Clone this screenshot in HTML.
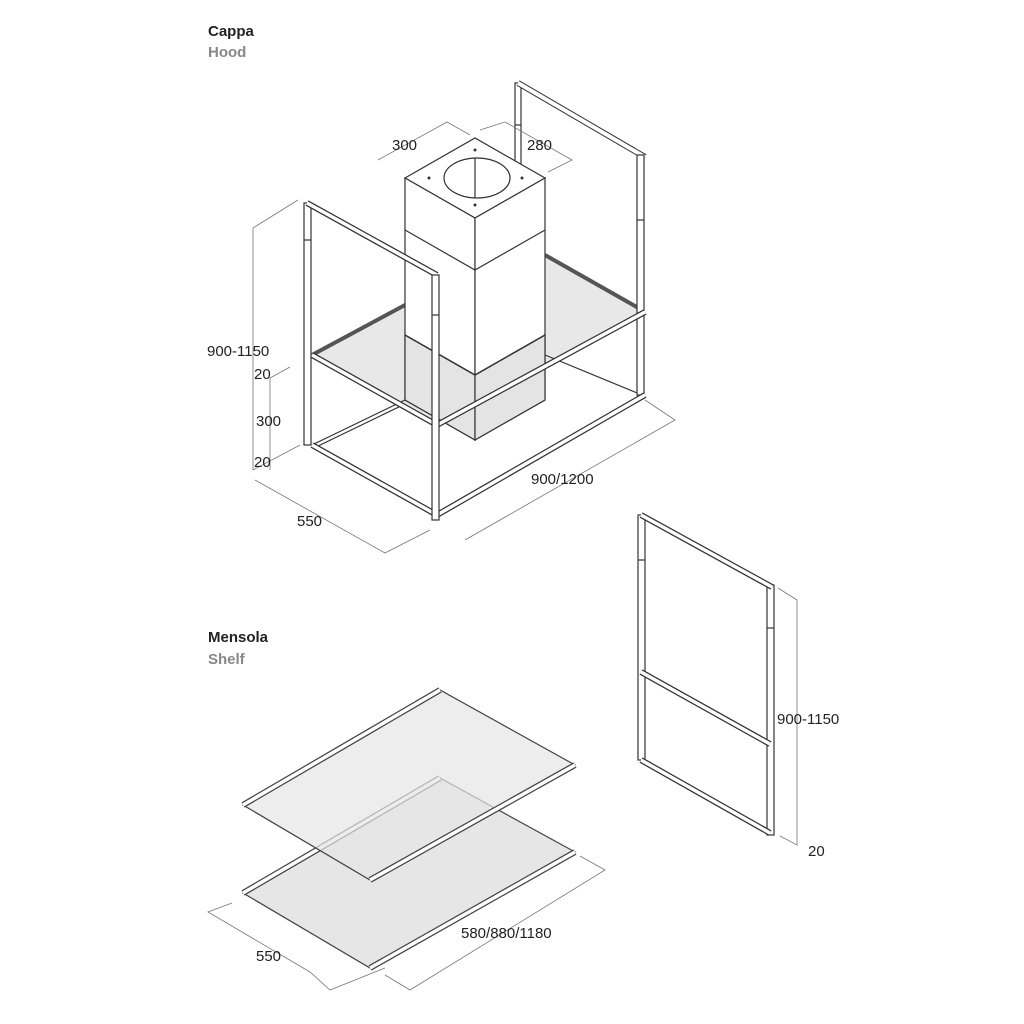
<!DOCTYPE html>
<html><head><meta charset="utf-8"><style>
html,body{margin:0;padding:0;background:#fff;}
svg{display:block;}
text{font-family:"Liberation Sans",Arial,sans-serif;}
</style></head><body>
<svg width="1024" height="1024" viewBox="0 0 1024 1024" xmlns="http://www.w3.org/2000/svg">
<rect width="1024" height="1024" fill="#fff"/>
<text x="208" y="36" font-size="15" font-weight="bold" fill="#222">Cappa</text>
<text x="208" y="57" font-size="15" font-weight="bold" fill="#888">Hood</text>
<text x="208" y="642" font-size="15" font-weight="bold" fill="#222">Mensola</text>
<text x="208" y="664" font-size="15" font-weight="bold" fill="#888">Shelf</text>

<!-- HOOD -->
<g stroke="#333" stroke-width="1.2" fill="none">
<polygon points="312,355 405,305 545,255 642,310 437,422" fill="#e8e8e8" stroke="none"/>
<line x1="312" y1="355" x2="405" y2="305" stroke-width="4" stroke="#555"/>
<line x1="545" y1="255" x2="642" y2="310" stroke-width="4" stroke="#555"/>
<line x1="312" y1="445" x2="405" y2="400"/>
<line x1="316" y1="447" x2="405" y2="404"/>
<line x1="545" y1="355" x2="642" y2="395"/>
<!-- back right frame (behind hood) -->
<rect x="515" y="83" width="6" height="175" fill="#fff"/>
<line x1="515" y1="125" x2="521" y2="125"/>
<line x1="518" y1="83" x2="645" y2="157" stroke-width="6"/>
<line x1="518" y1="83" x2="645" y2="157" stroke-width="4" stroke="#fff"/>
<rect x="637" y="155" width="7" height="240" fill="#fff"/>
<line x1="637" y1="220" x2="644" y2="220"/>
<!-- hood box -->
<polygon points="405,178 475,138 545,178 475,218" fill="#fff"/>
<polygon points="405,178 475,218 475,440 405,400" fill="#fff"/>
<polygon points="475,218 545,178 545,400 475,440" fill="#fff"/>
<polygon points="405,335 475,375 475,440 405,400" fill="#e4e4e4"/>
<polygon points="475,375 545,335 545,400 475,440" fill="#e4e4e4"/>
<polyline points="405,230 475,270 545,230"/>
<polyline points="405,335 475,375 545,335" stroke-width="1.5"/>
<ellipse cx="477" cy="178" rx="33" ry="20"/>
<line x1="475" y1="158" x2="475" y2="198"/>
<g fill="#333" stroke="none"><circle cx="475" cy="150" r="1.5"/><circle cx="429" cy="178" r="1.5"/><circle cx="522" cy="178" r="1.5"/><circle cx="475" cy="205" r="1.5"/></g>
<!-- front shelf rails -->
<line x1="312" y1="355" x2="437" y2="425" stroke-width="6"/>
<line x1="312" y1="355" x2="437" y2="425" stroke-width="3.5" stroke="#fff"/>
<line x1="437" y1="425" x2="645" y2="312" stroke-width="6"/>
<line x1="437" y1="425" x2="645" y2="312" stroke-width="3.5" stroke="#fff"/>
<line x1="312" y1="445" x2="437" y2="515" stroke-width="6"/>
<line x1="312" y1="445" x2="437" y2="515" stroke-width="3.5" stroke="#fff"/>
<line x1="437" y1="515" x2="645" y2="395" stroke-width="6"/>
<line x1="437" y1="515" x2="645" y2="395" stroke-width="3.5" stroke="#fff"/>
<!-- front-left frame -->
<rect x="304" y="203" width="7" height="242" fill="#fff"/>
<line x1="304" y1="240" x2="311" y2="240"/>
<line x1="307" y1="203" x2="437" y2="275" stroke-width="6"/>
<line x1="307" y1="203" x2="437" y2="275" stroke-width="3.5" stroke="#fff"/>
<rect x="432" y="275" width="7" height="245" fill="#fff"/>
<line x1="432" y1="315" x2="439" y2="315"/>
</g>
<g stroke="#777" stroke-width="0.8" fill="none">
<polyline points="298,200 253,228 253,470 300,445"/>
<polyline points="290,367 270,378 270,470"/>
<polyline points="255,480 385,553 430,530"/>
<polyline points="465,540 675,420 645,400"/>
<polyline points="378,160 447,122 470,135"/>
<polyline points="480,130 505,122 572,160 548,172"/>
</g>
<g font-size="15" fill="#222">
<text x="207" y="356">900-1150</text>
<text x="254" y="379">20</text>
<text x="256" y="426">300</text>
<text x="254" y="467">20</text>
<text x="297" y="526">550</text>
<text x="531" y="484">900/1200</text>
<text x="392" y="150">300</text>
<text x="527" y="150">280</text>
</g>

<!-- RIGHT FRAME -->
<g stroke="#333" stroke-width="1.2" fill="none">
<rect x="638" y="515" width="7" height="245" fill="#fff"/>
<line x1="638" y1="560" x2="645" y2="560"/>
<rect x="767" y="585" width="7" height="250" fill="#fff"/>
<line x1="767" y1="628" x2="774" y2="628"/>
<line x1="641" y1="515" x2="772" y2="587" stroke-width="6"/>
<line x1="641" y1="515" x2="772" y2="587" stroke-width="3.5" stroke="#fff"/>
<line x1="641" y1="672" x2="770" y2="744" stroke-width="6"/>
<line x1="641" y1="672" x2="770" y2="744" stroke-width="3.5" stroke="#fff"/>
<line x1="641" y1="760" x2="770" y2="833" stroke-width="6"/>
<line x1="641" y1="760" x2="770" y2="833" stroke-width="3.5" stroke="#fff"/>
</g>
<g stroke="#777" stroke-width="0.8" fill="none">
<polyline points="778,588 797,600 797,845 780,836"/>
</g>
<text x="777" y="724" font-size="15" fill="#222">900-1150</text>
<text x="808" y="856" font-size="15" fill="#222">20</text>

<!-- SHELVES -->
<g stroke="#444" stroke-width="1.2">
<polygon points="243,893 440,778 575,852 370,968" fill="#e6e6e6"/>
<line x1="243" y1="893" x2="440" y2="778" stroke-width="6"/>
<line x1="243" y1="893" x2="440" y2="778" stroke-width="3.5" stroke="#fff"/>
<line x1="370" y1="968" x2="575" y2="852" stroke-width="6"/>
<line x1="370" y1="968" x2="575" y2="852" stroke-width="3.5" stroke="#fff"/>
<polygon points="243,805 440,690 575,765 370,880" fill="#e6e6e6" fill-opacity="0.7"/>
<line x1="243" y1="805" x2="440" y2="690" stroke-width="6"/>
<line x1="243" y1="805" x2="440" y2="690" stroke-width="3.5" stroke="#fff"/>
<line x1="370" y1="880" x2="575" y2="765" stroke-width="6"/>
<line x1="370" y1="880" x2="575" y2="765" stroke-width="3.5" stroke="#fff"/>
</g>
<g stroke="#777" stroke-width="0.8" fill="none">
<polyline points="232,903 208,912 310,972 330,990 385,968"/>
<polyline points="385,975 410,990 605,870 580,856"/>
</g>
<text x="256" y="961" font-size="15" fill="#222">550</text>
<text x="461" y="938" font-size="15" fill="#222">580/880/1180</text>
</svg>
</body></html>
